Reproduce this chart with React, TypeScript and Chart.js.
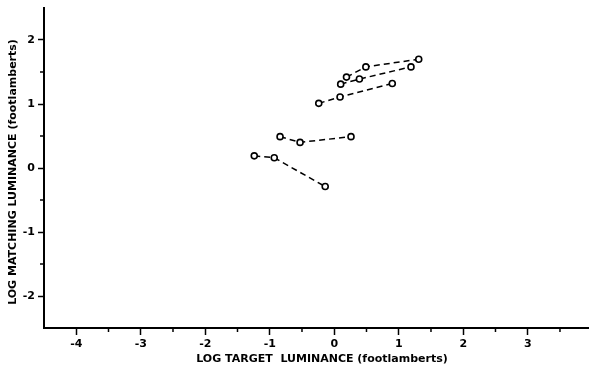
import React, { useEffect, useRef } from 'react';
import { Chart, registerables } from 'chart.js';

Chart.register(...registerables);

// Axis definitions
const xTickValues = [-4, -3, -2, -1, 0, 1, 2, 3];
const yTickValues = [-2, -1, 0, 1, 2];
const xMinorTicks = [-4.5, -3.5, -2.5, -1.5, -0.5, 0.5, 1.5, 2.5, 3.5];
const yMinorTicks = [-2.5, -1.5, -0.5, 0.5, 1.5];
const xTitle = 'LOG TARGET  LUMINANCE (footlamberts)';
const yTitle = 'LOG MATCHING LUMINANCE (footlamberts)';

// Series values (log target luminance, log matching luminance)
const series1X = [-1.24, -0.93, -0.14];
const series1Y = [0.19, 0.16, -0.29];
const series2X = [-0.84, -0.53, 0.26];
const series2Y = [0.49, 0.4, 0.49];
const series3X = [-0.24, 0.09, 0.9];
const series3Y = [1.01, 1.11, 1.32];
const series4X = [0.1, 0.39, 1.19];
const series4Y = [1.31, 1.39, 1.58];
const series5X = [0.19, 0.49, 1.31];
const series5Y = [1.42, 1.58, 1.7];

const allSeries = [
  [series1X, series1Y],
  [series2X, series2Y],
  [series3X, series3Y],
  [series4X, series4Y],
  [series5X, series5Y],
];

const FONT = '"DejaVu Sans", "Liberation Sans", sans-serif';

const decorPlugin = {
  id: 'decor',
  afterDraw(chart: any) {
    const ctx = chart.ctx;
    const xs = chart.scales.x;
    const ys = chart.scales.y;
    const area = chart.chartArea;
    ctx.save();
    ctx.strokeStyle = '#000';
    ctx.lineWidth = 1.5;
    xMinorTicks.forEach((v) => {
      const px = xs.getPixelForValue(v);
      if (px < area.left + 2) return;
      ctx.beginPath();
      ctx.moveTo(px, area.bottom);
      ctx.lineTo(px, area.bottom + 4);
      ctx.stroke();
    });
    yMinorTicks.forEach((v) => {
      const py = ys.getPixelForValue(v);
      if (py > area.bottom - 2) return;
      ctx.beginPath();
      ctx.moveTo(area.left, py);
      ctx.lineTo(area.left - 4, py);
      ctx.stroke();
    });
    ctx.fillStyle = '#000';
    ctx.font = `bold 11px ${FONT}`;
    ctx.textAlign = 'center';
    ctx.textBaseline = 'middle';
    ctx.fillText(xTitle, 322, 359);
    ctx.translate(13, 172);
    ctx.rotate(-Math.PI / 2);
    ctx.fillText(yTitle, 0, 0);
    ctx.restore();
  },
};

export default function App() {
  const ref = useRef<HTMLCanvasElement | null>(null);

  useEffect(() => {
    if (!ref.current) return;
    const datasets = allSeries.map(([xs, ys], i) => ({
      label: `Series ${i + 1}`,
      data: xs.map((x, j) => ({ x, y: ys[j] })),
      showLine: true,
      borderColor: '#000',
      borderWidth: 1.5,
      borderDash: [6, 4],
      pointRadius: 3,
      pointBorderWidth: 1.6,
      pointBackgroundColor: '#fff',
      pointBorderColor: '#000',
      fill: false,
    }));
    const tickFont = { family: FONT, size: 11, weight: 'bold' as const };
    const chart = new Chart(ref.current, {
      type: 'scatter',
      data: { datasets },
      options: {
        animation: false,
        responsive: false,
        layout: { autoPadding: false, padding: { top: 8, right: 0, left: 0, bottom: 0 } },
        plugins: { legend: { display: false }, tooltip: { enabled: false } },
        scales: {
          x: {
            type: 'linear',
            min: -4.5,
            max: 3.95,
            afterFit: (s: any) => {
              s.height = 41;
              s.paddingLeft = 0;
              s.paddingRight = 0;
            },
            afterBuildTicks: (s: any) => {
              s.ticks = xTickValues.map((v) => ({ value: v }));
            },
            border: { display: true, color: '#000', width: 2 },
            grid: { drawOnChartArea: false, drawTicks: true, tickLength: 7, color: '#000', tickWidth: 1.5 },
            ticks: {
              color: '#000',
              font: tickFont,
              padding: 3,
              maxRotation: 0,
              autoSkip: false,
              callback: (v: any) => String(v),
            },
          },
          y: {
            type: 'linear',
            min: -2.5,
            max: 2.5,
            afterFit: (s: any) => {
              s.width = 44;
              s.paddingTop = 0;
              s.paddingBottom = 0;
            },
            afterBuildTicks: (s: any) => {
              s.ticks = yTickValues.map((v) => ({ value: v }));
            },
            border: { display: true, color: '#000', width: 2 },
            grid: { drawOnChartArea: false, drawTicks: true, tickLength: 6, color: '#000', tickWidth: 1.5 },
            ticks: {
              color: '#000',
              font: tickFont,
              padding: 3,
              autoSkip: false,
              callback: (v: any) => String(v),
            },
          },
        },
      },
      plugins: [decorPlugin],
    });
    return () => chart.destroy();
  }, []);

  return (
    <canvas
      ref={ref}
      width={589}
      height={369}
      style={{ position: 'fixed', left: 0, top: 0, display: 'block', background: '#fff' }}
    />
  );
}
